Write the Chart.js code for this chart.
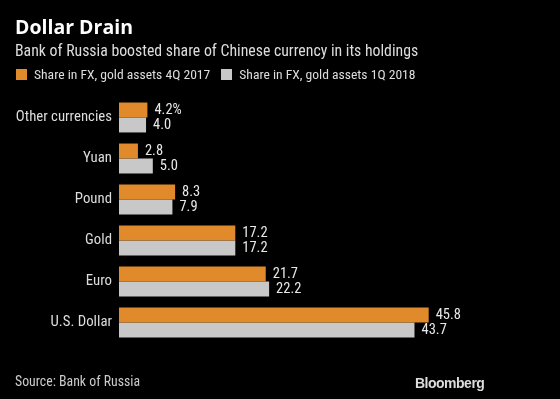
<!DOCTYPE html>
<html>
<head>
<meta charset="utf-8">
<script src="https://cdn.jsdelivr.net/npm/chart.js@4.4.1/dist/chart.umd.min.js"></script>
<style>
  html, body { margin: 0; padding: 0; background: #000; }
  #wrap { position: relative; width: 560px; height: 399px; background: #000; overflow: hidden;
          font-family: "Roboto Condensed", sans-serif; color: #ddd; }
  #title { position: absolute; left: 15px; top: 13px; font: bold 19.5px "Open Sans", sans-serif; color: #fff; }
  #subtitle { position: absolute; left: 15px; top: 41px; font-size: 15.8px; color: #ddd; }
  #legend { position: absolute; left: 16px; top: 66px; font-size: 13.6px; color: #ddd; display: flex; }
  .item { display: flex; align-items: center; margin-right: 11px; }
  .sw { width: 11px; height: 11px; margin-right: 7px; }
  #source { position: absolute; left: 15px; top: 373px; font-size: 13.8px; color: #ccc; }
  #brand { position: absolute; left: 415px; top: 375px; font: bold 14px "Liberation Sans", Arial, sans-serif; color: #ddd; letter-spacing: -0.5px; }
  canvas { position: absolute; left: 0; top: 0; }
</style>
</head>
<body>
<div id="wrap">
  <canvas id="chart" width="560" height="399"></canvas>
  <div id="title">Dollar Drain</div>
  <div id="subtitle">Bank of Russia boosted share of Chinese currency in its holdings</div>
  <div id="legend"></div>
  <div id="source">Source: Bank of Russia</div>
  <div id="brand">Bloomberg</div>
</div>
<script>
// Bank of Russia FX + gold holdings, share by asset
const categories = ['Other currencies', 'Yuan', 'Pound', 'Gold', 'Euro', 'U.S. Dollar'];
const share4Q2017 = [4.2, 2.8, 8.3, 17.2, 21.7, 45.8];
const share1Q2018 = [4.0, 5.0, 7.9, 17.2, 22.2, 43.7];
const seriesNames = ['Share in FX, gold assets 4Q 2017', 'Share in FX, gold assets 1Q 2018'];
const seriesColors = ['#e08a2b', '#c8c8c8'];

// legend in html, built from the series
const legendEl = document.getElementById('legend');
seriesNames.forEach((name, i) => {
    const item = document.createElement('div');
    item.className = 'item';
    item.innerHTML = '<span class="sw" style="background:' + seriesColors[i] + '"></span>' + name;
    legendEl.appendChild(item);
});

const labelFont = '14.5px "Roboto Condensed", sans-serif';

// value labels at the end of each bar, first one gets the % sign
const valueLabels = {
    id: 'valueLabels',
    afterDatasetsDraw(chart) {
        const ctx = chart.ctx;
        ctx.save();
        ctx.font = labelFont;
        ctx.fillStyle = '#e8e8e8';
        ctx.textBaseline = 'middle';
        ctx.textAlign = 'left';
        chart.data.datasets.forEach((ds, di) => {
            chart.getDatasetMeta(di).data.forEach((bar, i) => {
                let txt = ds.data[i].toFixed(1);
                if (di === 0 && i === 0) txt += '%';
                ctx.fillText(txt, bar.x + 7, bar.y);
            });
        });
        ctx.restore();
    }
};

new Chart(document.getElementById('chart'), {
    type: 'bar',
    data: {
        labels: categories,
        datasets: [
            { label: seriesNames[0], data: share4Q2017, backgroundColor: seriesColors[0] },
            { label: seriesNames[1], data: share1Q2018, backgroundColor: seriesColors[1] }
        ]
    },
    options: {
        indexAxis: 'y',
        responsive: false,
        animation: false,
        categoryPercentage: 0.73,
        barPercentage: 1.0,
        layout: { padding: { top: 97, bottom: 56, left: 0, right: 15 } },
        plugins: { legend: { display: false }, tooltip: { enabled: false } },
        scales: {
            x: { display: false, min: 0, max: 63 },
            y: {
                grid: { display: false, drawTicks: false },
                border: { display: false },
                ticks: { color: '#ddd', font: { family: '"Roboto Condensed", sans-serif', size: 14.8 }, padding: 7 },
                afterFit(scale) { scale.width = 119; }
            }
        }
    },
    plugins: [valueLabels]
});
</script>
</body>
</html>
